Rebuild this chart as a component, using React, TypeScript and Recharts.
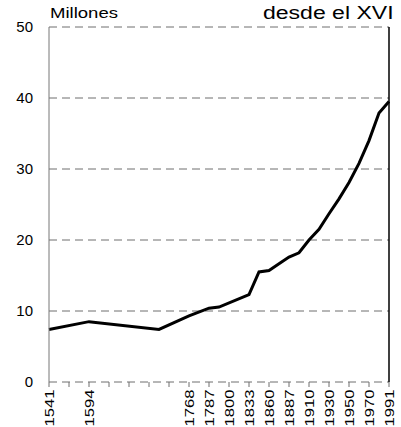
import React from "react";
import { LineChart, Line, XAxis, YAxis, CartesianGrid, ReferenceLine } from "recharts";

// category slots: "_n" are empty slots with no label
const years: string[] = [
  "1541", "_1", "_2", "_3", "1594", "_5", "_6", "_7", "_8", "_9", "_10", "1717",
  "_12", "_13", "1768", "_15", "1787", "1797", "1800", "_19", "1833", "1857",
  "1860", "1877", "1887", "1897", "1910", "1920", "1930", "1940", "1950", "1960",
  "1970", "1981", "1991",
];

// population in millions (null = no census in that slot)
const population: (number | null)[] = [
  7.4, null, null, null, 8.5, null, null, null, null, null, null, 7.4,
  null, null, 9.3, null, 10.4, 10.55, null, null, 12.3, 15.5,
  15.7, 16.65, 17.6, 18.2, 20.0, 21.5, 23.7, 25.8, 28.1, 30.8,
  34.0, 37.9, 39.5,
];

const yTicks = [0, 10, 20, 30, 40, 50];

const data = years.map((y, i) => ({ year: y, value: population[i] }));

const FONT = "'Liberation Sans', Arial, sans-serif";

const XTick = (props: any) => {
  const { x, y, payload } = props;
  const label = String(payload.value);
  if (label.startsWith("_")) return null;
  return (
    <g transform={`translate(${x},${y + 0.5})`}>
      <text
        transform="rotate(-90) scale(1.28,1)"
        textAnchor="end"
        dy="0.36em"
        fontSize={13}
        fontFamily={FONT}
        fill="#000"
      >
        {label}
      </text>
    </g>
  );
};

const App: React.FC = () => {
  return (
    <div style={{ position: "fixed", left: 0, top: 0, width: 401, height: 427, background: "#fff", overflow: "hidden" }}>
      <LineChart
        width={401}
        height={427}
        data={data}
        margin={{ top: 27, right: 12, left: 0, bottom: 0 }}
      >
        <CartesianGrid vertical={false} stroke="#6e6e6e" strokeDasharray="8 5" />
        <XAxis
          dataKey="year"
          interval={1}
          height={45}
          tickSize={5}
          axisLine={false}
          tickLine={{ stroke: "#6e6e6e" }}
          tick={<XTick />}
        />
        <YAxis
          domain={[0, 50]}
          ticks={yTicks}
          width={49}
          axisLine={{ stroke: "#777" }}
          tickLine={false}
          tickMargin={10}
          tick={{ fontSize: 15, fill: "#000", fontFamily: FONT }}
        />
        <ReferenceLine x="1991" stroke="#000" strokeWidth={1.5} />
        <Line
          type="linear"
          dataKey="value"
          stroke="#000"
          strokeWidth={3}
          dot={false}
          connectNulls
          isAnimationActive={false}
        />
      </LineChart>
      <svg
        width={401}
        height={427}
        style={{ position: "absolute", left: 0, top: 0, pointerEvents: "none" }}
      >
        <text
          x={50}
          y={18}
          fontSize={15}
          fontFamily={FONT}
          fill="#000"
          textLength={68}
          lengthAdjust="spacingAndGlyphs"
        >
          Millones
        </text>
        <text
          transform="translate(263,19) scale(1.28,1)"
          fontSize={18}
          fontFamily={FONT}
          fill="#000"
        >
          desde el XVI
        </text>
      </svg>
    </div>
  );
};

export default App;
